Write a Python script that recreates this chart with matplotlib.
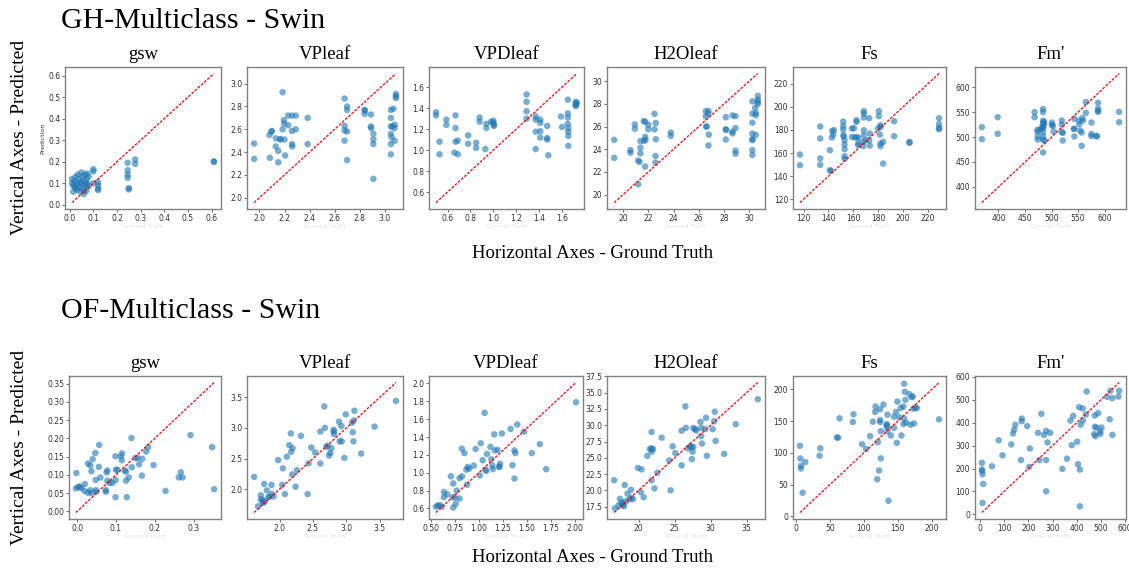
import matplotlib
matplotlib.use("Agg")
import matplotlib.pyplot as plt
from matplotlib.ticker import MultipleLocator
import numpy as np

# ---------------- data ----------------
variables = ["gsw", "VPleaf", "VPDleaf", "H2Oleaf", "Fs", "Fm'"]
row_titles = ["GH-Multiclass - Swin", "OF-Multiclass - Swin"]

# GH gsw
gh_gsw_true = [0.01, 0.01, 0.015, 0.015, 0.02, 0.02, 0.025, 0.03, 0.03, 0.035, 0.04, 0.04, 0.045,
               0.05, 0.05, 0.055, 0.055, 0.06, 0.06, 0.065, 0.065, 0.07, 0.07, 0.075, 0.075, 0.08,
               0.08, 0.045, 0.035, 0.025, 0.06, 0.07,
               0.1, 0.1, 0.1, 0.12, 0.12, 0.12, 0.12, 0.245, 0.245, 0.245, 0.245, 0.25, 0.25,
               0.277, 0.277, 0.61, 0.61]
gh_gsw_pred = [0.12, 0.10, 0.09, 0.06, 0.085, 0.11, 0.13, 0.10, 0.07, 0.14, 0.12, 0.08, 0.06,
               0.15, 0.10, 0.13, 0.075, 0.11, 0.05, 0.09, 0.14, 0.12, 0.065, 0.10, 0.145, 0.085,
               0.13, 0.105, 0.09, 0.075, 0.065, 0.095,
               0.165, 0.155, 0.10, 0.105, 0.09, 0.075, 0.068, 0.195, 0.16, 0.14, 0.125, 0.077, 0.071,
               0.21, 0.19, 0.20, 0.201]

# GH VPleaf
gh_vpleaf_true = [1.957, 1.957, 2.08, 2.094, 2.10, 2.083, 2.13, 2.13, 2.15, 2.15, 2.165, 2.168,
                  2.185, 2.185, 2.195, 2.197, 2.20, 2.205, 2.23, 2.23, 2.26, 2.29, 2.26, 2.26, 2.262,
                  2.29, 2.385, 2.385, 2.68, 2.68, 2.68, 2.68, 2.70, 2.70, 2.70, 2.70, 2.84, 2.842,
                  2.84, 2.89, 2.89, 2.892, 2.91, 2.91, 2.91, 2.91, 3.05, 3.07, 3.05, 3.05, 3.06,
                  3.05, 3.055, 3.08, 3.05, 3.05, 3.08, 3.08, 3.09, 3.09, 3.09]
gh_vpleaf_pred = [2.475, 2.34, 2.55, 2.58, 2.585, 2.35, 2.52, 2.45, 2.41, 2.31, 2.51, 2.515,
                  2.925, 2.60, 2.68, 2.65, 2.51, 2.37, 2.72, 2.635, 2.72, 2.72, 2.585, 2.47, 2.45,
                  2.60, 2.70, 2.47, 2.87, 2.63, 2.59, 2.50, 2.80, 2.77, 2.58, 2.33, 2.77, 2.765,
                  2.735, 2.73, 2.625, 2.61, 2.56, 2.51, 2.47, 2.165, 2.77, 2.78, 2.70, 2.625, 2.625,
                  2.56, 2.53, 2.50, 2.47, 2.38, 2.64, 2.61, 2.91, 2.89, 2.875]

# GH VPDleaf
gh_vpd_true = [0.50, 0.50, 0.53, 0.53, 0.59, 0.59, 0.67, 0.67, 0.67, 0.69, 0.66, 0.69, 0.78, 0.78,
               0.85, 0.85, 0.88, 0.88, 0.93, 0.94, 0.94, 0.98, 1.0, 1.005, 1.005, 1.0, 1.29, 1.29,
               1.29, 1.29, 1.37, 1.37, 1.37, 1.37, 1.41, 1.41, 1.41, 1.41, 1.47, 1.47, 1.47, 1.48,
               1.59, 1.60, 1.65, 1.65, 1.65, 1.65, 1.655, 1.655, 1.655, 1.655, 1.72, 1.72, 1.72,
               1.72, 1.73]
gh_vpd_pred = [1.36, 1.33, 1.08, 0.96, 1.29, 1.24, 1.33, 1.21, 1.08, 1.09, 0.975, 0.96, 1.14, 1.06,
               1.07, 1.02, 1.31, 1.27, 1.01, 1.25, 1.21, 1.27, 1.26, 1.24, 1.23, 1.28, 1.53, 1.46,
               1.37, 1.30, 1.32, 1.29, 1.175, 1.01, 1.29, 1.26, 1.18, 1.12, 1.23, 1.115, 1.10, 0.95,
               1.32, 1.22, 1.48, 1.35, 1.31, 1.25, 1.21, 1.175, 1.135, 1.04, 1.46, 1.44, 1.43,
               1.42, 1.45]

# GH H2Oleaf
gh_h2o_true = [19.29, 19.29, 20.58, 20.58, 20.93, 20.93, 21.19, 21.3, 21.19, 21.37, 21.37, 21.37,
               21.64, 21.75, 21.67, 21.77, 21.75, 21.75, 22.0, 22.0, 22.49, 22.49, 22.59, 22.59,
               22.57, 22.57, 23.78, 23.78, 26.56, 26.77, 26.77, 26.56, 26.6, 26.62, 26.8, 26.77,
               28.15, 28.15, 28.17, 28.15, 28.68, 28.92, 28.68, 28.68, 28.92, 28.92, 28.92, 30.26,
               30.26, 30.26, 30.26, 30.26, 30.26, 30.26, 30.26, 30.48, 30.53, 30.53, 30.53, 30.69,
               30.69, 30.69, 30.69]
gh_h2o_pred = [24.83, 23.23, 23.92, 23.69, 26.19, 25.81, 23.0, 22.88, 20.9, 24.71, 24.13, 23.63,
               26.48, 26.42, 24.74, 24.83, 25.09, 22.47, 26.16, 25.76, 27.12, 25.76, 26.31, 24.88,
               23.4, 22.82, 25.47, 25.17, 27.35, 27.38, 27.12, 26.89, 25.99, 26.0, 25.29, 24.33,
               26.83, 25.76, 25.70, 24.85, 26.98, 26.92, 25.55, 25.4, 25.87, 23.87, 23.6, 28.23,
               27.15, 26.34, 25.38, 24.88, 24.8, 23.92, 23.49, 27.65, 27.2, 27.0, 25.26, 28.72,
               28.37, 28.17, 28.0]

# GH Fs
gh_fs_true = [117.1, 117.1, 133.4, 133.4, 133.4, 133.4, 141.2, 141.2, 142.0, 142.8, 143.1, 144.4,
              143.9, 151.9, 151.9, 151.9, 152.2, 152.2, 153.0, 153.0, 153.0, 153.0, 153.0, 158.9,
              160.5, 158.9, 161.3, 162.6, 162.6, 162.6, 164.0, 164.0, 164.2, 168.0, 168.0, 168.5,
              168.5, 168.5, 168.5, 168.5, 170.1, 173.3, 172.8, 173.3, 172.8, 180.6, 180.6, 180.0,
              181.9, 181.4, 181.9, 181.9, 181.9, 184.0, 184.0, 192.9, 192.9, 205.2, 205.2, 229.0,
              229.0, 229.0, 229.0]
gh_fs_pred = [158.7, 149.5, 183.0, 172.6, 155.3, 149.8, 162.5, 145.1, 144.6, 173.5, 179.2, 179.8,
              176.0, 187.3, 183.3, 180.4, 175.5, 174.3, 171.2, 167.4, 163.4, 157.3, 155.0, 181.3,
              181.5, 174.0, 173.5, 188.5, 187.0, 173.8, 168.3, 166.8, 173.2, 169.7, 166.0, 196.3,
              194.3, 190.8, 179.8, 175.5, 171.2, 177.0, 190.2, 166.5, 171.0, 196.3, 192.0, 181.3,
              182.7, 176.0, 184.0, 168.3, 166.0, 169.7, 150.9, 187.6, 174.6, 169.7, 168.8, 190.2,
              185.0, 181.8, 180.7]

# GH Fm'
gh_fm_true = [368.7, 368.7, 398.5, 398.5, 468.0, 468.0, 473.5, 473.5, 474.0, 474.0, 478.5, 482.0,
              484.0, 484.0, 484.0, 486.0, 484.0, 486.0, 484.0, 484.0, 484.0, 484.0, 484.0, 487.0,
              484.0, 500.8, 500.8, 502.6, 503.9, 519.4, 519.4, 519.4, 521.3, 521.0, 541.8, 543.0,
              543.0, 543.0, 552.3, 552.3, 554.0, 556.7, 556.7, 558.0, 564.7, 564.7, 559.0, 575.3,
              575.3, 575.3, 585.2, 585.2, 587.7, 587.7, 587.7, 587.7, 627.4, 627.4]
gh_fm_pred = [519.8, 495.7, 539.8, 506.4, 549.9, 539.8, 514.4, 510.4, 501.0, 495.0, 514.4, 519.8,
              555.9, 549.9, 532.5, 530.5, 527.8, 525.5, 519.8, 517.8, 509.8, 501.0, 494.4, 493.0,
              469.0, 529.0, 523.8, 522.5, 511.0, 533.0, 525.0, 509.8, 508.5, 493.0, 516.4, 516.4,
              501.0, 536.5, 532.5, 525.8, 513.0, 509.0, 482.4, 537.8, 548.5, 570.0, 533.0, 529.0,
              506.0, 502.0, 501.0, 502.5, 568.6, 557.0, 552.5, 550.5, 550.5, 529.8]

# OF gsw
of_gsw_true = [-0.002, -0.003, 0.003, 0.007, 0.011, 0.02, 0.019, 0.028, 0.034, 0.04, 0.037, 0.028,
               0.034, 0.037, 0.047, 0.048, 0.048, 0.05, 0.056, 0.057, 0.06, 0.074, 0.074, 0.076,
               0.078, 0.078, 0.084, 0.091, 0.099, 0.1, 0.099, 0.099, 0.104, 0.113, 0.115, 0.116,
               0.123, 0.126, 0.126, 0.128, 0.133, 0.14, 0.141, 0.15, 0.156, 0.16, 0.167, 0.168,
               0.178, 0.183, 0.197, 0.228, 0.262, 0.267, 0.272, 0.292, 0.348, 0.353]
of_gsw_pred = [0.105, 0.063, 0.067, 0.068, 0.064, 0.075, 0.056, 0.131, 0.126, 0.143, 0.110, 0.051,
               0.058, 0.050, 0.160, 0.086, 0.058, 0.054, 0.122, 0.182, 0.093, 0.058, 0.054, 0.107,
               0.112, 0.084, 0.078, 0.078, 0.151, 0.114, 0.086, 0.039, 0.114, 0.151, 0.140, 0.159,
               0.112, 0.109, 0.084, 0.039, 0.093, 0.201, 0.121, 0.146, 0.146, 0.129, 0.098, 0.144,
               0.164, 0.176, 0.127, 0.056, 0.093, 0.107, 0.093, 0.209, 0.176, 0.061]

# OF VPleaf
of_vpleaf_true = [1.62, 1.68, 1.72, 1.72, 1.745, 1.75, 1.76, 1.77, 1.78, 1.81, 1.835, 1.85, 1.88,
                  1.885, 1.91, 1.98, 2.04, 2.05, 2.08, 2.11, 2.145, 2.17, 2.175, 2.195, 2.19, 2.24,
                  2.26, 2.32, 2.435, 2.42, 2.475, 2.53, 2.61, 2.61, 2.67, 2.68, 2.70, 2.72, 2.74,
                  2.76, 2.775, 2.81, 2.81, 2.815, 2.89, 2.90, 2.925, 2.93, 2.97, 2.99, 3.085, 3.11,
                  3.095, 3.105, 3.12, 3.22, 3.42, 3.74]
of_vpleaf_pred = [2.20, 1.72, 1.90, 1.83, 1.83, 1.79, 1.78, 2.085, 1.80, 1.98, 1.87, 1.88, 2.07,
                  1.925, 1.88, 2.475, 2.07, 2.34, 1.92, 2.53, 2.72, 2.91, 2.61, 2.67, 2.24, 2.04,
                  2.31, 2.87, 2.42, 1.92, 2.68, 2.60, 2.94, 2.42, 3.35, 3.00, 2.69, 2.71, 2.55,
                  2.59, 2.67, 2.97, 2.94, 2.90, 3.10, 2.78, 3.03, 2.78, 2.51, 3.22, 3.085, 3.12,
                  2.93, 2.78, 3.28, 2.58, 3.02, 3.44]

# OF VPDleaf
of_vpd_true = [0.555, 0.575, 0.596, 0.617, 0.637, 0.637, 0.67, 0.71, 0.727, 0.734, 0.734, 0.754,
               0.76, 0.77, 0.80, 0.80, 0.826, 0.823, 0.85, 0.87, 0.885, 0.90, 0.878, 0.947, 0.967,
               1.01, 1.02, 1.04, 1.06, 1.07, 1.077, 1.084, 1.12, 1.13, 1.14, 1.146, 1.16, 1.167,
               1.194, 1.21, 1.215, 1.22, 1.24, 1.33, 1.35, 1.37, 1.37, 1.38, 1.40, 1.47, 1.55,
               1.634, 1.70, 2.01]
of_vpd_pred = [0.62, 0.635, 0.635, 0.62, 0.727, 0.785, 0.76, 0.96, 0.727, 0.88, 0.61, 0.72,
               0.65, 0.80, 0.71, 0.94, 0.96, 1.27, 1.22, 1.035, 1.065, 1.045, 0.865, 1.08, 1.265,
               0.97, 1.33, 1.14, 1.67, 1.035, 1.02, 1.21, 1.29, 1.15, 1.08, 1.04, 1.43, 1.25,
               1.255, 1.065, 1.07, 1.10, 1.44, 1.49, 1.085, 0.935, 1.25, 1.22, 1.54, 1.46, 1.22,
               1.32, 1.04, 1.79]

# OF H2Oleaf
of_h2o_true = [16.6, 16.7, 17.2, 17.4, 17.6, 17.8, 17.97, 17.8, 18.2, 18.07, 18.45, 18.7, 19.0,
               19.2, 18.94, 19.9, 20.4, 20.3, 20.7, 21.2, 21.55, 21.8, 21.8, 21.8, 21.8, 22.0,
               22.2, 22.6, 23.2, 24.25, 24.44, 24.73, 25.1, 25.97, 25.97, 26.5, 26.57, 26.86,
               27.15, 27.34, 27.6, 27.4, 27.5, 27.6, 27.83, 28.0, 28.6, 28.7, 28.7, 28.8, 29.27,
               29.37, 29.47, 30.3, 30.5, 30.58, 30.7, 31.9, 33.5, 36.57]
of_h2o_pred = [21.56, 17.24, 17.7, 18.7, 18.0, 17.7, 17.6, 18.1, 18.3, 20.83, 19.5, 18.6, 18.85,
               18.65, 20.1, 23.44, 23.23, 19.74, 18.96, 25.3, 26.35, 26.45, 28.96, 25.94, 21.56,
               26.35, 20.3, 22.7, 28.1, 24.6, 20.0, 26.77, 25.73, 29.17, 23.85, 32.9, 29.6, 26.46,
               26.77, 26.67, 26.67, 24.8, 25.94, 29.58, 29.4, 29.2, 30.52, 29.58, 28.33, 27.19,
               29.4, 31.15, 25.3, 29.4, 30.62, 32.08, 27.6, 25.6, 30.16, 34.0]

# OF Fs
of_fs_true = [5.9, 6.4, 7.4, 7.4, 9.8, 13.7, 34.8, 35.8, 60.3, 62.3, 64.2, 83.8, 84.8, 97.5, 103.4,
              109.3, 113.2, 117.2, 116.7, 120.6, 119.6, 122.5, 124.0, 124.0, 124.0, 125.0, 125.0,
              128.9, 134.8, 133.8, 133.8, 133.8, 134.8, 136.3, 139.7, 144.6, 144.6, 147.5, 148.5,
              149.5, 152.5, 154.4, 155.4, 158.3, 158.3, 159.3, 159.3, 160.3, 161.3, 162.3, 167.2,
              169.1, 170.6, 172.0, 173.0, 176.0, 178.0, 174.0, 210.8]
of_fs_pred = [111.0, 91.0, 79.5, 75.3, 37.0, 85.4, 95.4, 107.0, 124.0, 124.0, 154.3, 148.5, 160.7,
              113.5, 106.0, 126.2, 149.0, 172.9, 164.4, 116.6, 58.3, 72.1, 168.6, 151.6, 148.5,
              134.0, 91.2, 176.0, 160.0, 145.3, 143.2, 141.0, 134.0, 24.4, 127.3, 139.4, 157.0,
              164.4, 115.6, 180.8, 155.9, 170.7, 127.3, 172.9, 145.3, 153.8, 208.9, 196.2, 183.5,
              147.4, 192.5, 144.2, 187.7, 188.8, 169.7, 170.7, 170.7, 146.3, 152.7]

# OF Fm'
of_fm_true = [8.4, 8.4, 9.8, 11.0, 14.0, 11.0, 50.0, 78.0, 93.5, 130.0, 137.0, 142.0, 146.6, 170.0,
              173.0, 173.0, 195.5, 204.0, 206.6, 240.0, 245.7, 254.0, 265.0, 273.6, 273.6, 273.6,
              279.0, 290.0, 340.6, 360.0, 374.0, 379.7, 385.3, 402.0, 405.0, 413.0, 410.0, 413.0,
              416.0, 425.8, 424.4, 438.0, 441.0, 472.0, 477.5, 474.7, 474.7, 481.6, 488.6, 497.0,
              497.0, 502.6, 525.0, 536.0, 539.0, 547.0, 547.0, 572.0, 575.0]
of_fm_pred = [225.0, 195.6, 189.6, 174.8, 133.0, 50.4, 210.0, 323.0, 257.8, 305.0, 352.6, 370.0,
              391.0, 237.0, 417.8, 406.0, 385.0, 207.4, 287.4, 355.6, 237.0, 438.5, 346.7, 364.4,
              237.0, 100.7, 314.0, 355.6, 198.5, 243.0, 409.0, 302.0, 429.6, 317.0, 219.0, 195.6,
              468.0, 35.6, 391.0, 409.0, 462.0, 435.6, 536.0, 349.6, 340.7, 431.0, 382.0, 377.8,
              441.5, 361.5, 351.0, 379.0, 512.6, 414.8, 539.0, 506.7, 346.7, 514.0, 539.0]

gh_rows = [(gh_gsw_true, gh_gsw_pred), (gh_vpleaf_true, gh_vpleaf_pred), (gh_vpd_true, gh_vpd_pred),
           (gh_h2o_true, gh_h2o_pred), (gh_fs_true, gh_fs_pred), (gh_fm_true, gh_fm_pred)]
of_rows = [(of_gsw_true, of_gsw_pred), (of_vpleaf_true, of_vpleaf_pred), (of_vpd_true, of_vpd_pred),
           (of_h2o_true, of_h2o_pred), (of_fs_true, of_fs_pred), (of_fm_true, of_fm_pred)]

# tick spacing per panel (x, y)
gh_ticks = [(0.1, 0.1), (0.2, 0.2), (0.2, 0.2), (2, 2), (20, 20), (50, 50)]
of_ticks = [(0.1, 0.05), (0.5, 0.5), (0.25, 0.2), (5, 2.5), (50, 50), (100, 100)]

# ---------------- layout ----------------
W, H = 1129, 572
fig = plt.figure(figsize=(W / 100, H / 100), dpi=100)
serif = ["Liberation Serif", "DejaVu Serif"]

top_l = [65, 247, 429, 607, 793, 975]
top_r = [221, 403, 584, 765, 946, 1126]
bot_l = [69, 247, 429, 607, 793, 975]
bot_r = [221, 403, 583, 765, 946, 1126]
row_boxes = [(top_l, top_r, 67, 209), (bot_l, bot_r, 376, 519)]


def make_panel(rect, xs, ys, title, ticks, show_ylabel=False):
    l, r, t, b = rect
    ax = fig.add_axes([l / W, 1 - b / H, (r - l) / W, (b - t) / H])
    xs = np.asarray(xs)
    ys = np.asarray(ys)
    ax.scatter(xs, ys, s=22, color="#1f77b4", alpha=0.6, edgecolors="none")
    lo, hi = xs.min(), xs.max()
    ax.plot([lo, hi], [lo, hi], color="red", linestyle=(0, (2.2, 1.2)), linewidth=0.9)
    ax.xaxis.set_major_locator(MultipleLocator(ticks[0]))
    ax.yaxis.set_major_locator(MultipleLocator(ticks[1]))
    for sp in ax.spines.values():
        sp.set_color("#808080")
        sp.set_linewidth(1.0)
    ax.tick_params(labelsize=5.5, length=2, width=0.6, color="#555555", pad=1.5,
                   labelcolor="#333333")
    ax.set_title(title, fontsize=13.5, family=serif, pad=6)
    ax.set_xlabel("Ground Truth", fontsize=4.5, color="#e2e2e2", labelpad=1)
    if show_ylabel:
        ax.set_ylabel("Prediction", fontsize=4.5, color="#333333", labelpad=2)
    return ax


for ri, (rows, tks) in enumerate([(gh_rows, gh_ticks), (of_rows, of_ticks)]):
    lefts, rights, tp, bt = row_boxes[ri]
    for ci, (xs, ys) in enumerate(rows):
        make_panel((lefts[ci], rights[ci], tp, bt), xs, ys, variables[ci], tks[ci],
                   show_ylabel=(ri == 0 and ci == 0))

# row titles and axis captions
fig.text(61 / W, 1 - 21 / H, row_titles[0], fontsize=21.5, family=serif, va="center", ha="left")
fig.text(61 / W, 1 - 311 / H, row_titles[1], fontsize=21.5, family=serif, va="center", ha="left")
fig.text(593 / W, 1 - 253 / H, "Horizontal Axes - Ground Truth", fontsize=13.5, family=serif,
         ha="center", va="center")
fig.text(593 / W, 1 - 557 / H, "Horizontal Axes - Ground Truth", fontsize=13.5, family=serif,
         ha="center", va="center")
fig.text(20 / W, 1 - 137 / H, "Vertical Axes - Predicted", fontsize=14, family=serif,
         rotation=90, ha="center", va="center")
fig.text(20 / W, 1 - 447 / H, "Vertical Axes - Predicted", fontsize=14, family=serif,
         rotation=90, ha="center", va="center")

fig.savefig("out.png", dpi=100, facecolor="white")
